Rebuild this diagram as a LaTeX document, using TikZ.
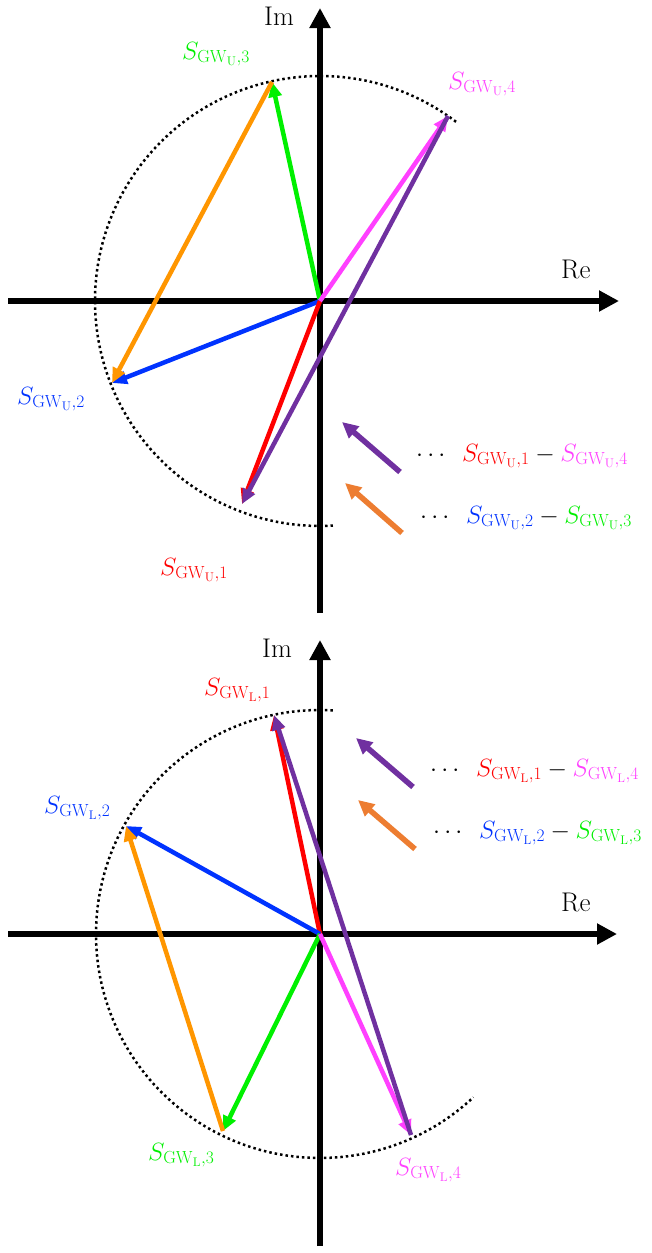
\documentclass[tikz,border=0pt]{standalone}
\usepackage{fix-cm}
\usetikzlibrary{arrows.meta}
\definecolor{cred}{RGB}{255,0,0}
\definecolor{cgreen}{RGB}{0,240,0}
\definecolor{cblue}{RGB}{0,51,255}
\definecolor{cmag}{RGB}{255,64,255}
\definecolor{corange}{RGB}{255,150,0}
\definecolor{clorange}{RGB}{237,125,49}
\definecolor{cpurple}{RGB}{112,48,160}
\newcommand{\SU}[1]{S_{\mathrm{GW}_{\mathrm{U}},#1}}
\newcommand{\SL}[1]{S_{\mathrm{GW}_{\mathrm{L}},#1}}
\begin{document}
\begin{tikzpicture}[x=1pt,y=-1pt,
  axis/.style={line width=6.5pt,-{Triangle[length=20pt,width=20pt]}},
  vec/.style={line width=4.5pt,-{Triangle[length=15pt,width=13pt]}},
  leg/.style={line width=5.5pt,-{Triangle[length=16pt,width=15pt]}},
  dots/.style={line width=2.5pt,dash pattern=on 2.5pt off 3pt},
  lab/.style={inner sep=0pt,anchor=base west,font=\fontsize{25}{29}\selectfont},
  axlab/.style={inner sep=0pt,anchor=base west,font=\fontsize{27}{31}\selectfont}]
\useasboundingbox (0,0) rectangle (651,1253);
\fill[white] (0,0) rectangle (651,1253);

% ===== Upper panel =====
\coordinate (O1) at (320,301);
\coordinate (U1) at (242,504);
\coordinate (U2) at (112,383);
\coordinate (U3) at (272,82);
\coordinate (U4) at (448,116);
\coordinate (UxL) at (8,301);
\coordinate (UxR) at (619,301);
\coordinate (UyB) at (320,613);
\coordinate (UyT) at (320,8);

\draw[dots] (O1) ++(-52.8:225) arc[start angle=-52.8,end angle=-273.3,radius=225];
\draw[axis] (UxL) -- (UxR);
\draw[axis] (UyB) -- (UyT);
\node[axlab] (UIm) at (264,25) {Im};
\node[axlab] (URe) at (561,278) {Re};

\draw[vec,cgreen] (O1) -- (U3);
\draw[vec,cblue] (O1) -- (U2);
\draw[vec,cred] (O1) -- (U1);
\draw[vec,cmag] (O1) -- (U4);
\draw[vec,corange] (U3) -- (U2);
\draw[vec,cpurple] (U4) -- (U1);

\node[lab,text=cgreen] (lU3) at (182,59) {$\SU{3}$};
\node[lab,text=cmag] (lU4) at (448,89) {$\SU{4}$};
\node[lab,text=cblue] (lU2) at (17,404) {$\SU{2}$};
\node[lab,text=cred] (lU1) at (160,575) {$\SU{1}$};

\coordinate (ULp1) at (400,472);
\coordinate (ULp2) at (342,422);
\coordinate (ULo1) at (402,533);
\coordinate (ULo2) at (345,483);
\draw[leg,cpurple] (ULp1) -- (ULp2);
\draw[leg,clorange] (ULo1) -- (ULo2);
\node[lab] (ULt1) at (416,461) {$\cdots\enspace{\color{cred}\SU{1}}-{\color{cmag}\SU{4}}$};
\node[lab] (ULt2) at (420,523) {$\cdots\enspace{\color{cblue}\SU{2}}-{\color{cgreen}\SU{3}}$};

% ===== Lower panel =====
\coordinate (O2) at (320,934);
\coordinate (L1) at (274,715);
\coordinate (L2) at (126,826);
\coordinate (L3) at (223,1131);
\coordinate (L4) at (411,1135);
\coordinate (LxL) at (8,934);
\coordinate (LxR) at (617,934);
\coordinate (LyB) at (320,1246);
\coordinate (LyT) at (320,640);

\draw[dots] (O2) ++(-86.7:224) arc[start angle=-86.7,end angle=-313.2,radius=224];
\draw[axis] (LxL) -- (LxR);
\draw[axis] (LyB) -- (LyT);
\node[axlab] (LIm) at (262,657) {Im};
\node[axlab] (LRe) at (561,911) {Re};

\draw[vec,cred] (O2) -- (L1);
\draw[vec,cblue] (O2) -- (L2);
\draw[vec,cgreen] (O2) -- (L3);
\draw[vec,cmag] (O2) -- (L4);
\draw[vec,corange] (L3) -- (L2);
\draw[vec,cpurple] (L4) -- (L1);

\node[lab,text=cred] (lL1) at (204,695) {$\SL{1}$};
\node[lab,text=cblue] (lL2) at (44,813) {$\SL{2}$};
\node[lab,text=cgreen] (lL3) at (148,1160) {$\SL{3}$};
\node[lab,text=cmag] (lL4) at (395,1175) {$\SL{4}$};

\coordinate (LLp1) at (413,787);
\coordinate (LLp2) at (356,738);
\coordinate (LLo1) at (415,849);
\coordinate (LLo2) at (358,800);
\draw[leg,cpurple] (LLp1) -- (LLp2);
\draw[leg,clorange] (LLo1) -- (LLo2);
\node[lab] (LLt1) at (430,776) {$\cdots\enspace{\color{cred}\SL{1}}-{\color{cmag}\SL{4}}$};
\node[lab] (LLt2) at (433,838) {$\cdots\enspace{\color{cblue}\SL{2}}-{\color{cgreen}\SL{3}}$};
\end{tikzpicture}
\end{document}
